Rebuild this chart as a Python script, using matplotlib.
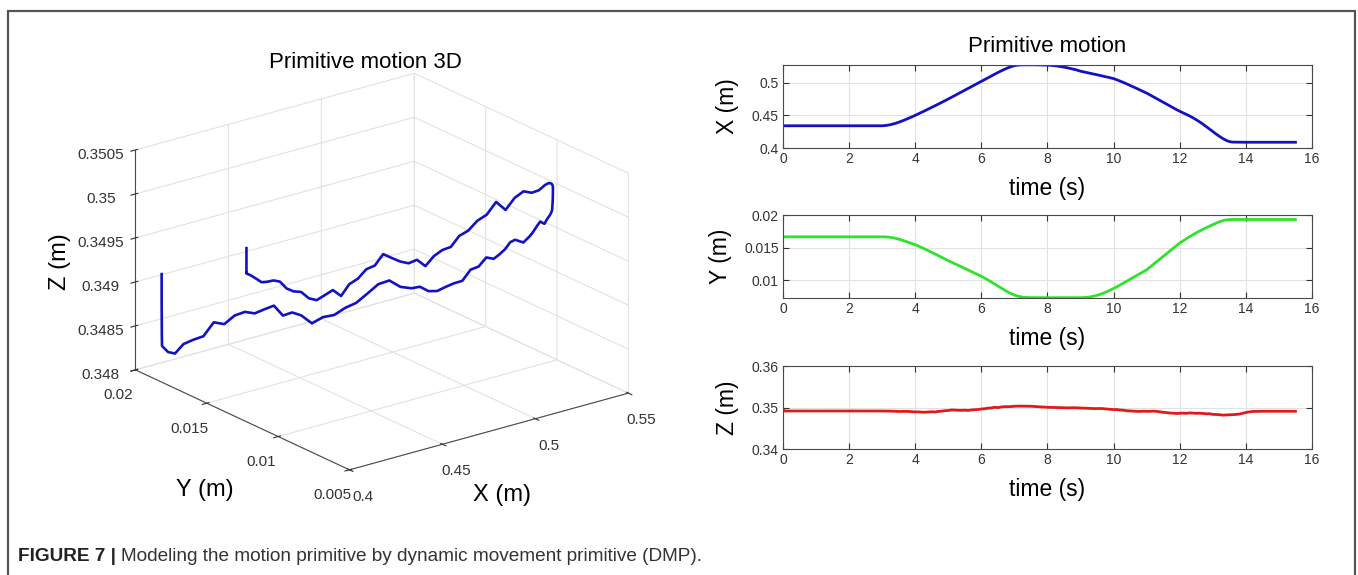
import matplotlib
matplotlib.use("Agg")
import matplotlib.pyplot as plt
from matplotlib.patches import Rectangle

plt.rcParams['font.family'] = ['Liberation Sans', 'DejaVu Sans']
plt.rcParams['grid.color'] = '#e2e2e2'
plt.rcParams['grid.linewidth'] = 0.8

# time base (s)
t = [0.0, 0.05, 0.5, 1.0, 1.5, 2.0, 2.5, 2.9,
     3.0, 3.1, 3.2, 3.3, 3.4, 3.5, 3.6, 3.7, 3.8, 3.9,
     4.0, 4.1, 4.2, 4.3, 4.4, 4.5, 4.6, 4.7, 4.8, 4.9,
     5.0, 5.1, 5.2, 5.3, 5.4, 5.5, 5.6, 5.7, 5.8, 5.9,
     6.0, 6.1, 6.2, 6.3, 6.4, 6.5, 6.6, 6.7, 6.8, 6.9,
     7.0, 7.1, 7.2, 7.3, 7.4, 7.5, 7.6, 7.7, 7.8, 7.9,
     8.0, 8.1, 8.2, 8.3, 8.4, 8.5, 8.6, 8.7, 8.8, 8.9,
     9.0, 9.1, 9.2, 9.3, 9.4, 9.5, 9.6, 9.7, 9.8, 9.9,
     10.0, 10.1, 10.2, 10.3, 10.4, 10.5, 10.6, 10.7, 10.8, 10.9,
     11.0, 11.1, 11.2, 11.3, 11.4, 11.5, 11.6, 11.7, 11.8, 11.9,
     12.0, 12.1, 12.2, 12.3, 12.4, 12.5, 12.6, 12.7, 12.8, 12.9,
     13.0, 13.1, 13.2, 13.3, 13.4, 13.5, 13.6,
     13.8, 14.0, 14.2, 14.5, 15.0, 15.5]

x_pos = [0.4340, 0.4340, 0.4340, 0.4340, 0.4340, 0.4340, 0.4340, 0.4340,
         0.4340, 0.4344, 0.4352, 0.4363, 0.4377, 0.4394, 0.4413, 0.4434, 0.4455, 0.4477,
         0.4500, 0.4524, 0.4548, 0.4572, 0.4597, 0.4622, 0.4647, 0.4672, 0.4698, 0.4724,
         0.4750, 0.4777, 0.4804, 0.4831, 0.4858, 0.4885, 0.4912, 0.4939, 0.4966, 0.4993,
         0.5020, 0.5047, 0.5074, 0.5101, 0.5128, 0.5155, 0.5180, 0.5204, 0.5226, 0.5245,
         0.5260, 0.5268, 0.5272, 0.5273, 0.5273, 0.5273, 0.5273, 0.5272, 0.5271, 0.5270,
         0.5268, 0.5265, 0.5260, 0.5254, 0.5246, 0.5237, 0.5227, 0.5216, 0.5204, 0.5191,
         0.5175, 0.5164, 0.5153, 0.5142, 0.5131, 0.5120, 0.5109, 0.5097, 0.5086, 0.5074,
         0.5062, 0.5043, 0.5023, 0.5002, 0.4980, 0.4957, 0.4934, 0.4911, 0.4887, 0.4863,
         0.4840, 0.4812, 0.4784, 0.4756, 0.4728, 0.4700, 0.4672, 0.4644, 0.4616, 0.4588,
         0.4562, 0.4538, 0.4514, 0.4490, 0.4462, 0.4432, 0.4400, 0.4365, 0.4328, 0.4290,
         0.4252, 0.4214, 0.4178, 0.4146, 0.4118, 0.4098, 0.4090,
         0.4089, 0.4088, 0.4088, 0.4088, 0.4088, 0.4088]

y_pos = [0.01665, 0.01665, 0.01665, 0.01665, 0.01665, 0.01665, 0.01665, 0.01665,
         0.01665, 0.01664, 0.01660, 0.01653, 0.01643, 0.01630, 0.01615, 0.01598, 0.01580, 0.01562,
         0.01543, 0.01522, 0.01499, 0.01475, 0.01451, 0.01427, 0.01402, 0.01377, 0.01351, 0.01325,
         0.01300, 0.01276, 0.01252, 0.01228, 0.01204, 0.01180, 0.01156, 0.01132, 0.01108, 0.01084,
         0.01060, 0.01032, 0.01003, 0.00973, 0.00942, 0.00911, 0.00880, 0.00849, 0.00820, 0.00794,
         0.00772, 0.00755, 0.00744, 0.00737, 0.00734, 0.00733, 0.00733, 0.00732, 0.00732, 0.00732,
         0.00732, 0.00732, 0.00732, 0.00732, 0.00732, 0.00732, 0.00732, 0.00732, 0.00732, 0.00732,
         0.00732, 0.00734, 0.00738, 0.00745, 0.00755, 0.00768, 0.00784, 0.00803, 0.00825, 0.00849,
         0.00873, 0.00900, 0.00928, 0.00957, 0.00986, 0.01015, 0.01044, 0.01073, 0.01102, 0.01131,
         0.01160, 0.01201, 0.01242, 0.01283, 0.01324, 0.01365, 0.01406, 0.01447, 0.01488, 0.01529,
         0.01570, 0.01603, 0.01636, 0.01668, 0.01698, 0.01727, 0.01754, 0.01780, 0.01805, 0.01829,
         0.01852, 0.01874, 0.01895, 0.01913, 0.01925, 0.01930, 0.01931,
         0.01931, 0.01931, 0.01931, 0.01931, 0.01931, 0.01931]

z_pos = [0.349440, 0.349160, 0.349160, 0.349158, 0.349160, 0.349157, 0.349155, 0.349154,
         0.349153, 0.349147, 0.349135, 0.349115, 0.349086, 0.349048, 0.349053, 0.349069, 0.349057, 0.348980,
         0.348948, 0.348944, 0.348875, 0.348858, 0.348918, 0.348980, 0.348917, 0.349056, 0.349122, 0.349235,
         0.349280, 0.349413, 0.349372, 0.349334, 0.349316, 0.349358, 0.349289, 0.349405, 0.349477, 0.349514,
         0.349642, 0.349708, 0.349827, 0.349902, 0.350055, 0.349972, 0.350118, 0.350202, 0.350195, 0.350233,
         0.350299, 0.350331, 0.350331, 0.350323, 0.350308, 0.350293, 0.350251, 0.350195, 0.350136, 0.350102,
         0.350044, 0.350023, 0.350003, 0.349984, 0.349966, 0.349942, 0.349908, 0.349925, 0.349947, 0.349917,
         0.349876, 0.349841, 0.349807, 0.349774, 0.349734, 0.349745, 0.349756, 0.349720, 0.349630, 0.349560,
         0.349499, 0.349505, 0.349392, 0.349347, 0.349211, 0.349174, 0.349124, 0.349069, 0.349060, 0.349102,
         0.349076, 0.349077, 0.349135, 0.349078, 0.348955, 0.348836, 0.348764, 0.348668, 0.348630, 0.348544,
         0.348618, 0.348641, 0.348594, 0.348697, 0.348649, 0.348598, 0.348613, 0.348573, 0.348477, 0.348502,
         0.348348, 0.348313, 0.348270, 0.348167, 0.348191, 0.348249, 0.348272,
         0.348400, 0.348800, 0.349050, 0.349090, 0.349090, 0.349090]

# axis ticks / labels
x3d_ticks = [0.4, 0.45, 0.5, 0.55]
x3d_labels = ['0.4', '0.45', '0.5', '0.55']
y3d_ticks = [0.005, 0.01, 0.015, 0.02]
y3d_labels = ['0.005', '0.01', '0.015', '0.02']
z3d_ticks = [0.348, 0.3485, 0.349, 0.3495, 0.35, 0.3505]
z3d_labels = ['0.348', '0.3485', '0.349', '0.3495', '0.35', '0.3505']

time_ticks = [0, 2, 4, 6, 8, 10, 12, 14, 16]
x_ticks = [0.4, 0.45, 0.5]
x_tick_labels = ['0.4', '0.45', '0.5']
y_ticks = [0.01, 0.015, 0.02]
y_tick_labels = ['0.01', '0.015', '0.02']
z_ticks = [0.34, 0.35, 0.36]
z_tick_labels = ['0.34', '0.35', '0.36']

W, H = 1358, 575
fig = plt.figure(figsize=(W / 100, H / 100), dpi=100)

blue = '#1212c4'
green = '#2ee22e'
red = '#e01a1a'
axcol = '#4a4a4a'

# ---- 3D plot ----
ax3d = fig.add_axes([0.0263, 0.0861, 0.5, 0.86], projection='3d')
ax3d.patch.set_alpha(0)
ax3d.set_proj_type('ortho')
ax3d.plot(x_pos, y_pos, z_pos, color=blue, lw=1.9)
ax3d.view_init(elev=21, azim=-127.5)
ax3d.set_box_aspect((1, 1, 0.67), zoom=1.08)
ax3d.set_xlim(0.4, 0.55)
ax3d.set_ylim(0.005, 0.02)
ax3d.set_zlim(0.348, 0.3505)
ax3d.set_xticks(x3d_ticks)
ax3d.set_xticklabels(x3d_labels)
ax3d.set_yticks(y3d_ticks)
ax3d.set_yticklabels(y3d_labels)
ax3d.set_zticks(z3d_ticks)
ax3d.set_zticklabels(z3d_labels)
ax3d.tick_params(labelsize=11, colors='#333333')
ax3d.zaxis.set_tick_params(pad=5)
for axis in (ax3d.xaxis, ax3d.yaxis, ax3d.zaxis):
    axis.set_pane_color((1, 1, 1, 0))
    axis.pane.set_edgecolor('#d8d8d8')
    axis.line.set_color(axcol)
# axis titles placed flat, as in the original
fig.text(502 / W, 1 - 495 / H, 'X (m)', fontsize=17, ha='center', va='center')
fig.text(205 / W, 1 - 490 / H, 'Y (m)', fontsize=17, ha='center', va='center')
fig.text(60 / W, 1 - 262 / H, 'Z (m)', fontsize=17, ha='center', va='center', rotation=90)
fig.text(365 / W, 1 - 62 / H, 'Primitive motion 3D', fontsize=16, ha='center', va='center')

# ---- time plots ----
panels = [
    (x_pos, blue, 'X (m)', (0.4, 0.527), x_ticks, x_tick_labels, 65),
    (y_pos, green, 'Y (m)', (0.00727, 0.02), y_ticks, y_tick_labels, 215),
    (z_pos, red, 'Z (m)', (0.34, 0.36), z_ticks, z_tick_labels, 366),
]
for vals, col, lab, lim, ticks, tlabels, top in panels:
    ax = fig.add_axes([783 / W, 1 - (top + 83) / H, 529 / W, 83 / H])
    ax.plot(t, vals, color=col, lw=2.0)
    ax.set_xlim(0, 16)
    ax.set_ylim(*lim)
    ax.set_xticks(time_ticks)
    ax.set_yticks(ticks)
    ax.set_yticklabels(tlabels)
    ax.grid(True, color='#e2e2e2', lw=0.8)
    ax.tick_params(direction='in', top=True, right=True, labelsize=10, colors='#333333',
                   length=4, pad=3)
    for s in ax.spines.values():
        s.set_color(axcol)
    ax.set_xlabel('time (s)', fontsize=16.5, labelpad=8)
    ax.set_ylabel(lab, fontsize=16.5, labelpad=9)
    if top == 65:
        ax.set_title('Primitive motion', fontsize=16, pad=9)

# frame around figure
fig.add_artist(Rectangle((8 / W, -0.05), 1347 / W, 1.05 - 11 / H, transform=fig.transFigure,
                         fill=False, edgecolor='#555555', lw=1.6))

cap1 = fig.text(18 / W, 1 - 561 / H, 'FIGURE 7 |', fontsize=13.7, fontweight='bold',
                color='#222222', va='baseline')
fig.canvas.draw()
bb = cap1.get_window_extent()
fig.text((bb.x1 + 5) / W, 1 - 561 / H,
         'Modeling the motion primitive by dynamic movement primitive (DMP).',
         fontsize=13.7, color='#333333', va='baseline')

fig.savefig('out.png', dpi=100)
